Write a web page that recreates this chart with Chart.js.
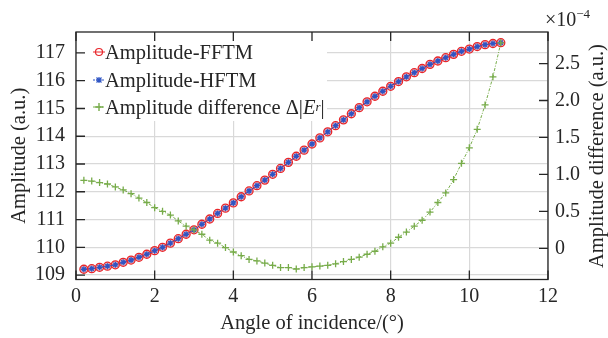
<!DOCTYPE html>
<html lang="en">
<head>
  <meta charset="UTF-8" />
  <title>Amplitude vs angle of incidence</title>
  <script src="https://cdn.jsdelivr.net/npm/chart.js"></script>
  <style>
    body { margin: 0; background: #fff; font-family: "Liberation Serif", serif; color: #262626; }
    #wrap { position: relative; width: 608px; height: 338px; }
    #c { position: absolute; left: 0; top: 0; }
    .leg { position: absolute; left: 93px; height: 24px; line-height: 24px; font-size: 20.5px; display: flex; align-items: center; white-space: nowrap; }
    .leg svg { margin-right: 0; }
    sub { font-size: 13px; line-height: 0; vertical-align: -5px; }
    sup { font-size: 13px; line-height: 0; }
    #expo { position: absolute; left: 545px; top: 7px; font-size: 20px; line-height: 24px; }
    #rtitle { position: absolute; left: 596px; top: 156px; width: 300px; text-align: center; font-size: 20.5px; line-height: 24px;
              transform: translate(-50%, -50%) rotate(-90deg); }
  </style>
</head>
<body>
<div id="wrap">
  <canvas id="c" width="608" height="338"></canvas>
  <div class="leg" style="top:40px">
    <svg width="12" height="12"><line x1="0" y1="6" x2="12" y2="6" stroke="#e8262b" stroke-width="1"/><circle cx="6" cy="6" r="3.5" fill="none" stroke="#e8262b" stroke-width="1.2"/></svg>Amplitude-FFTM</div>
  <div class="leg" style="top:68px">
    <svg width="12" height="12"><line x1="0" y1="6" x2="12" y2="6" stroke="#2f55c4" stroke-width="1" stroke-dasharray="2,1"/><path d="M3.5 3.5L8.5 8.5M8.5 3.5L3.5 8.5M6 3v6M3 6h6" stroke="#2f55c4" stroke-width="1.2"/></svg>Amplitude-HFTM</div>
  <div class="leg" style="top:95px">
    <svg width="12" height="12"><line x1="0" y1="6" x2="12" y2="6" stroke="#77ac4a" stroke-width="1" stroke-dasharray="2,1"/><path d="M6 2v8M2 6h8" stroke="#77ac4a" stroke-width="1.4"/></svg>Amplitude difference&nbsp;Δ|<i>E</i><sub><i>r</i></sub>|</div>
  <div id="expo">×10<sup>−4</sup></div>
  <div id="rtitle">Amplitude difference (a.u.)</div>
</div>
<script>
  const angles = [0.2,0.4,0.6,0.8,1.0,1.2,1.4,1.6,1.8,2.0,2.2,2.4,2.6,2.8,3.0,3.2,3.4,3.6,3.8,4.0,
    4.2,4.4,4.6,4.8,5.0,5.2,5.4,5.6,5.8,6.0,6.2,6.4,6.6,6.8,7.0,7.2,7.4,7.6,7.8,8.0,
    8.2,8.4,8.6,8.8,9.0,9.2,9.4,9.6,9.8,10.0,10.2,10.4,10.6,10.8];
  const ampFFTM = [109.21,109.23,109.28,109.32,109.37,109.46,109.54,109.64,109.75,109.88,
    110.00,110.15,110.31,110.47,110.63,110.83,111.02,111.22,111.41,111.60,
    111.82,112.03,112.22,112.42,112.63,112.84,113.06,113.28,113.50,113.72,
    113.94,114.16,114.38,114.59,114.81,115.03,115.24,115.44,115.62,115.80,
    115.97,116.14,116.29,116.44,116.59,116.71,116.83,116.95,117.06,117.14,
    117.23,117.30,117.34,117.37];
  const ampHFTM = [109.21,109.23,109.28,109.32,109.37,109.46,109.54,109.64,109.75,109.88,
    110.00,110.15,110.31,110.47,110.63,110.83,111.02,111.22,111.41,111.60,
    111.82,112.03,112.22,112.42,112.63,112.84,113.06,113.28,113.50,113.72,
    113.94,114.16,114.38,114.59,114.81,115.03,115.24,115.44,115.62,115.80,
    115.97,116.14,116.29,116.44,116.59,116.71,116.83,116.95,117.06,117.14,
    117.23,117.30,117.34,117.37];
  // difference, in units of 1e-4
  const ampDiff = [0.92,0.91,0.89,0.87,0.83,0.79,0.74,0.68,0.62,0.55,
    0.50,0.45,0.37,0.30,0.25,0.19,0.11,0.07,0.01,-0.05,
    -0.10,-0.15,-0.17,-0.20,-0.23,-0.26,-0.26,-0.28,-0.26,-0.25,
    -0.24,-0.23,-0.21,-0.18,-0.15,-0.12,-0.08,-0.04,0.02,0.07,
    0.15,0.22,0.30,0.38,0.49,0.62,0.75,0.93,1.15,1.36,
    1.61,1.94,2.32,2.78];

  const xTicks = [0, 2, 4, 6, 8, 10, 12];
  const yTicks = [109, 110, 111, 112, 113, 114, 115, 116, 117];
  const y1Ticks = [0, 0.5, 1.0, 1.5, 2.0, 2.5];
  const y1Labels = ['0', '0.5', '1.0', '1.5', '2.0', '2.5'];

  const pts = arr => arr.map((v, i) => ({ x: angles[i], y: v }));
  const font = { family: 'Liberation Serif', size: 20 };
  const ink = '#262626';
  const gridCol = '#d9d9d9';

  // white box behind legend, border and inward ticks like the original
  const frame = {
    id: 'frame',
    beforeDatasetsDraw(chart) {
      const ctx = chart.ctx;
      ctx.save();
      ctx.fillStyle = '#fff';
      ctx.fillRect(77, 33, 250, 88);
      ctx.restore();
    },
    afterDraw(chart) {
      const { ctx, chartArea: a, scales } = chart;
      const tl = 9;
      ctx.save();
      ctx.strokeStyle = ink;
      ctx.lineWidth = 1.3;
      ctx.strokeRect(a.left, a.top, a.right - a.left, a.bottom - a.top);
      ctx.beginPath();
      xTicks.forEach(v => {
        const px = scales.x.getPixelForValue(v);
        ctx.moveTo(px, a.bottom); ctx.lineTo(px, a.bottom - tl);
        ctx.moveTo(px, a.top); ctx.lineTo(px, a.top + tl);
      });
      yTicks.forEach(v => {
        const py = scales.y.getPixelForValue(v);
        ctx.moveTo(a.left, py); ctx.lineTo(a.left + tl, py);
      });
      y1Ticks.forEach(v => {
        const py = scales.y1.getPixelForValue(v);
        ctx.moveTo(a.right, py); ctx.lineTo(a.right - tl, py);
      });
      ctx.stroke();
      ctx.restore();
    }
  };

  new Chart(document.getElementById('c'), {
    type: 'line',
    data: {
      datasets: [
        {
          label: 'Amplitude-FFTM', data: pts(ampFFTM), yAxisID: 'y', order: 2,
          borderColor: '#e8262b', borderWidth: 1,
          pointStyle: 'circle', pointRadius: 4, pointBorderWidth: 1.3,
          pointBorderColor: '#e8262b', pointBackgroundColor: 'rgba(240,110,110,0.45)'
        },
        {
          label: 'Amplitude-HFTM', data: pts(ampHFTM), yAxisID: 'y', order: 1,
          borderColor: '#2f55c4', borderWidth: 1, borderDash: [3, 1.5],
          pointStyle: 'star', pointRadius: 3, pointBorderWidth: 1.3,
          pointBorderColor: '#2f55c4', pointBackgroundColor: '#2f55c4'
        },
        {
          label: 'Amplitude difference', data: pts(ampDiff), yAxisID: 'y1', order: 0,
          borderColor: '#77ac4a', borderWidth: 1, borderDash: [3, 1.5, 1, 1.5],
          pointStyle: 'cross', pointRadius: 3.5, pointBorderWidth: 1.3,
          pointBorderColor: '#77ac4a', pointBackgroundColor: '#77ac4a'
        }
      ]
    },
    options: {
      responsive: false,
      animation: false,
      layout: { padding: { top: 32, left: 0, right: 0, bottom: 0 } },
      plugins: { legend: { display: false }, tooltip: { enabled: false } },
      scales: {
        x: {
          type: 'linear', position: 'bottom', min: 0, max: 12,
          afterBuildTicks: s => { s.ticks = xTicks.map(v => ({ value: v })); },
          afterFit: s => { s.height = 58.5; },
          ticks: { font, color: ink, padding: 5, maxRotation: 0 },
          grid: { color: gridCol, lineWidth: 1.2, drawTicks: false },
          border: { display: false },
          title: { display: true, text: 'Angle of incidence/(°)', font: { family: 'Liberation Serif', size: 20.5 }, color: ink, padding: { top: 0, bottom: 2 } }
        },
        y: {
          position: 'left', min: 108.84, max: 117.755,
          afterBuildTicks: s => { s.ticks = yTicks.map(v => ({ value: v })); },
          afterFit: s => { s.width = 76; },
          ticks: { font, color: ink, padding: 11 },
          grid: { color: gridCol, lineWidth: 1.2, drawTicks: false },
          border: { display: false },
          title: { display: true, text: 'Amplitude (a.u.)', font: { family: 'Liberation Serif', size: 20.5 }, color: ink, padding: { top: 7, bottom: 0 } }
        },
        y1: {
          position: 'right', min: -0.422, max: 2.927,
          afterBuildTicks: s => { s.ticks = y1Ticks.map(v => ({ value: v })); },
          afterFit: s => { s.width = 60; },
          ticks: { font, color: ink, padding: 7, callback: (v, i) => y1Labels[i] },
          grid: { display: false, drawTicks: false },
          border: { display: false }
        }
      }
    },
    plugins: [frame]
  });
</script>
</body>
</html>
